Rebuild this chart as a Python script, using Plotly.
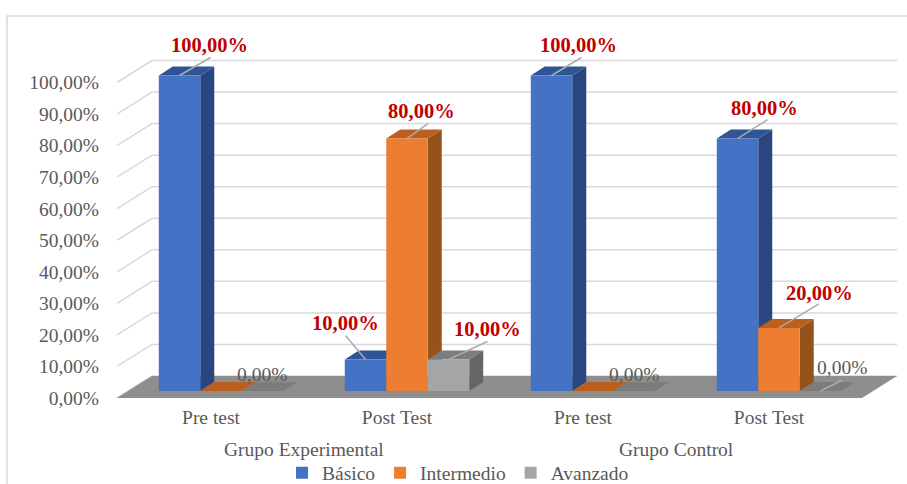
import plotly.graph_objects as go

categories = ["Pre test", "Post Test", "Pre test", "Post Test"]
groups = ["Grupo Experimental", "Grupo Control"]
series_names = ["Básico", "Intermedio", "Avanzado"]
basico = [100, 10, 100, 80]
intermedio = [0, 80, 0, 20]
avanzado = [0, 10, 0, 0]
y_ticks = [0, 10, 20, 30, 40, 50, 60, 70, 80, 90, 100]

W, H = 907, 484
L, B = 105, 400              # left and bottom edge of plotting area, px
X0, XSTEP = 221.0, 186.0     # px of first category, px per category
Y0, YSTEP = 391.0, 3.155     # px of value 0, px per unit
FONT = "Liberation Serif"
GREY = "#595959"
front = ["#4472C4", "#ED7D31", "#A5A5A5"]
top_c = ["#2F5597", "#BC5F1E", "#7C7C7C"]
side_c = ["#2A4680", "#95521B", "#656565"]
BARGAP = 0.331
BAR_W = (1 - BARGAP) / 3
DX, DY = 14 / XSTEP, 9 / YSTEP          # bar depth
WY = 15 / YSTEP                         # wall offset from the bar base plane
FY = -7 / YSTEP                         # floor front offset


def px_x(px):
    return (px - X0) / XSTEP


def poly(points, color, width=0, line_color=None):
    path = "M" + "L".join(f"{x:.5f},{y:.5f}" for x, y in points) + "Z"
    return dict(type="path", path=path, xref="x", yref="y", layer="below",
                fillcolor=color, line=dict(width=width, color=line_color or color))


values = [basico, intermedio, avanzado]
shapes = []

# wall grid lines
x_front_left, x_back_left = px_x(117), px_x(152)
x_back_right, x_front_right = px_x(897), px_x(862)
for t in y_ticks:
    shapes.append(dict(type="path", xref="x", yref="y", layer="below",
                       path=f"M{x_front_left},{t + FY}L{x_back_left},{t + WY}L{x_back_right},{t + WY}",
                       line=dict(color="#D9D9D9", width=1.5)))

# floor
shapes.append(poly([(x_front_left, FY), (x_back_left, WY), (x_back_right, WY), (x_front_right, FY)], "#8E8E8E"))

# depth faces
for c in range(len(categories)):
    for s in range(3):
        v = values[s][c]
        xl = c + (s - 1) * BAR_W - BAR_W / 2
        xr = xl + BAR_W
        if v > 0:
            shapes.append(poly([(xr, 0), (xr + DX, DY), (xr + DX, v + DY), (xr, v)], side_c[s]))
        shapes.append(poly([(xl, v), (xr, v), (xr + DX, v + DY), (xl + DX, v + DY)], top_c[s]))

# data labels: series, category, label dx, label dy, leader end dx, leader end dy (px)
label_offsets = [
    (0, 0, 29.5, 31, 31, 18), (0, 2, 26.5, 31, 30, 18),
    (0, 1, -20, 36, -20, 24), (0, 3, 27, 31, 30, 19),
    (1, 1, 14, 28, 21, 15), (1, 3, 40, 35, 40, 24),
    (2, 1, 39, 30, 39, 18), (2, 0, 0, 17, None, None),
    (2, 2, 0, 17, None, None), (2, 3, 22, 24, 22, 11),
]
annotations = []
for s, c, dx, dy, lx, ly in label_offsets:
    v = values[s][c]
    xc = c + (s - 1) * BAR_W
    text = f"{v:.2f}%".replace(".", ",")
    if v > 0:
        font = dict(family=FONT, size=20.5, color="#C00000", weight="bold")
    else:
        font = dict(family=FONT, size=19.5, color=GREY)
    annotations.append(dict(x=xc, y=v, xref="x", yref="y", text=text, showarrow=False,
                            xshift=dx, yshift=dy, font=font))
    if lx is not None:
        shapes.append(dict(type="line", xref="x", yref="y", x0=xc, y0=v,
                           x1=xc + lx / XSTEP, y1=v + ly / YSTEP,
                           line=dict(color="#ABABAB", width=1.5)))

# group labels
for i, g in enumerate(groups):
    annotations.append(dict(x=0.5 + 2 * i, y=1 - 449 / B, xref="x", yref="paper", text=g,
                            showarrow=False, xshift=-10, yanchor="middle",
                            font=dict(family=FONT, size=19.5, color=GREY)))

# chart frame (runs off the right and bottom of the picture)
shapes.append(dict(type="rect", xref="paper", yref="paper", layer="below",
                   x0=(7 - L) / (W - L), x1=(930 - L) / (W - L), y0=1 - 510 / B, y1=1 - 16 / B,
                   line=dict(color="#D9D9D9", width=1.5), fillcolor="rgba(0,0,0,0)"))

fig = go.Figure()
for s, name in enumerate(series_names):
    fig.add_bar(name=name, x=list(range(len(categories))), y=values[s], marker=dict(color=front[s], line_width=0))

fig.update_layout(
    width=W, height=H, barmode="group", bargap=BARGAP, bargroupgap=0,
    margin=dict(l=L, r=0, t=0, b=H - B, autoexpand=False),
    plot_bgcolor="white", paper_bgcolor="white",
    shapes=shapes, annotations=annotations,
    legend=dict(orientation="h", x=458 / W, xref="container", xanchor="center",
                y=(H - 473) / H, yref="container", yanchor="middle",
                font=dict(family=FONT, size=19.5, color=GREY), bgcolor="rgba(0,0,0,0)"),
)
fig.update_xaxes(range=[(L - X0) / XSTEP, (W - X0) / XSTEP], tickvals=list(range(len(categories))),
                 ticktext=categories, showgrid=False, zeroline=False, showline=False, ticks="",
                 ticklabelshift=-10, ticklabelstandoff=3,
                 tickfont=dict(family=FONT, size=19.5, color=GREY))
fig.update_yaxes(range=[(Y0 - B) / YSTEP, Y0 / YSTEP], tickvals=y_ticks,
                 ticktext=[f"{t:.2f}%".replace(".", ",") for t in y_ticks],
                 showgrid=False, zeroline=False, showline=False, ticks="",
                 ticklabelshift=7, ticklabelstandoff=5,
                 tickfont=dict(family=FONT, size=19.5, color=GREY))
fig.write_html("out.html", config={"displayModeBar": False},
               post_script="document.body.style.margin='0';")
